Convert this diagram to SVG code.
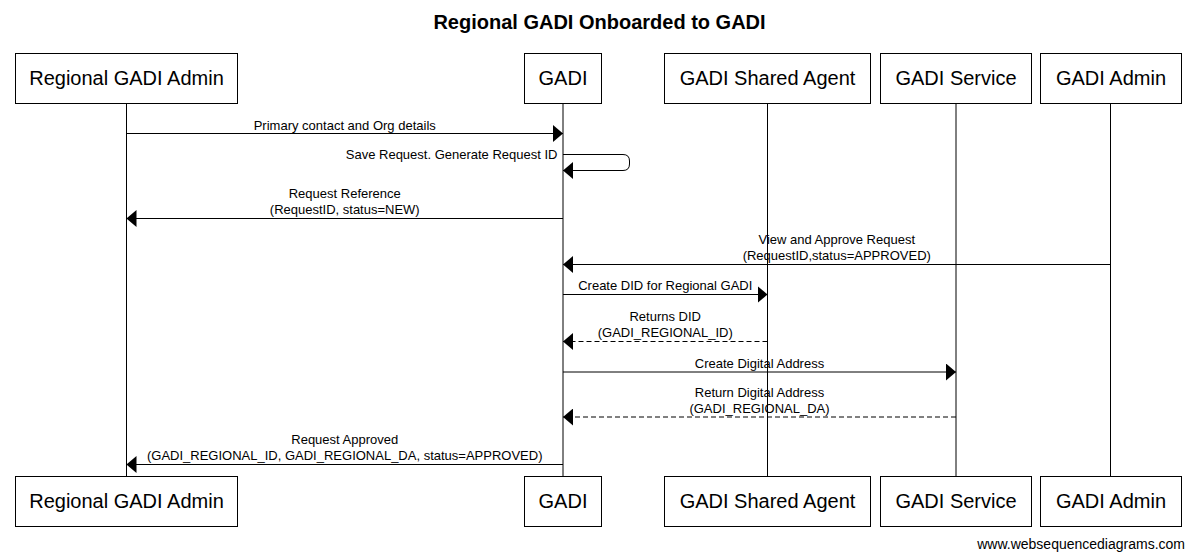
<svg xmlns="http://www.w3.org/2000/svg" width="1194" height="560" viewBox="0 0 1194 560">
<style>
  text { font-family: "Liberation Sans", Arial, sans-serif; fill: #000; }
  .title { font-size: 20px; font-weight: bold; text-anchor: middle; }
  .box rect { fill: #fff; stroke: #000; stroke-width: 1; }
  .box text { font-size: 20px; text-anchor: middle; }
  .life { stroke: #000; stroke-width: 1; fill: none; }
  .msg { stroke: #000; stroke-width: 1; fill: none; marker-end: url(#arrow); }
  .dash { stroke-dasharray: 5,3; }
  .lbl { font-size: 13px; text-anchor: middle; }
  .footer { font-size: 14px; text-anchor: end; }
</style>
<defs>
  <marker id="arrow" markerUnits="userSpaceOnUse" viewBox="0 0 10 17" refX="10" refY="8.5" markerWidth="10" markerHeight="17" orient="auto">
    <path d="M0,0 L10,8.5 L0,17 z" fill="#000"/>
  </marker>
</defs>
<rect width="1194" height="560" fill="#fff"/>
<text class="title" x="599.5" y="29">Regional GADI Onboarded to GADI</text>

<g id="lifelines">
  <line class="life" x1="126.5" y1="103.5" x2="126.5" y2="476.5"/>
  <line class="life" x1="563" y1="103.5" x2="563" y2="476.5"/>
  <line class="life" x1="767.5" y1="103.5" x2="767.5" y2="476.5"/>
  <line class="life" x1="956" y1="103.5" x2="956" y2="476.5"/>
  <line class="life" x1="1110.5" y1="103.5" x2="1110.5" y2="476.5"/>
</g>

<g id="node-regional-admin" class="box">
  <rect x="15.5" y="53.5" width="222" height="50"/>
  <text x="126.5" y="85">Regional GADI Admin</text>
  <rect x="15.5" y="476.5" width="222" height="50"/>
  <text x="126.5" y="508">Regional GADI Admin</text>
</g>
<g id="node-gadi" class="box">
  <rect x="524.5" y="53.5" width="77" height="50"/>
  <text x="563" y="85">GADI</text>
  <rect x="524.5" y="476.5" width="77" height="50"/>
  <text x="563" y="508">GADI</text>
</g>
<g id="node-shared-agent" class="box">
  <rect x="664.5" y="53.5" width="206" height="50"/>
  <text x="767.5" y="85">GADI Shared Agent</text>
  <rect x="664.5" y="476.5" width="206" height="50"/>
  <text x="767.5" y="508">GADI Shared Agent</text>
</g>
<g id="node-service" class="box">
  <rect x="880.5" y="53.5" width="151" height="50"/>
  <text x="956" y="85">GADI Service</text>
  <rect x="880.5" y="476.5" width="151" height="50"/>
  <text x="956" y="508">GADI Service</text>
</g>
<g id="node-gadi-admin" class="box">
  <rect x="1040.5" y="53.5" width="141" height="50"/>
  <text x="1111" y="85">GADI Admin</text>
  <rect x="1040.5" y="476.5" width="141" height="50"/>
  <text x="1111" y="508">GADI Admin</text>
</g>

<g id="connectors">
  <line class="msg" x1="126.5" y1="133.5" x2="563" y2="133.5"/>
  <text class="lbl" x="344.75" y="129.5">Primary contact and Org details</text>

  <path class="msg" d="M563,154.5 H623 Q629.5,154.5 629.5,161 V164 Q629.5,170.5 623,170.5 H563"/>
  <text class="lbl" x="557.5" y="159" style="text-anchor:end">Save Request. Generate Request ID</text>

  <line class="msg" x1="563" y1="218.5" x2="126.5" y2="218.5"/>
  <text class="lbl" x="344.75" y="197.5">Request Reference</text>
  <text class="lbl" x="344.75" y="213.5">(RequestID, status=NEW)</text>

  <line class="msg" x1="1110.5" y1="264.5" x2="563" y2="264.5"/>
  <text class="lbl" x="836.75" y="243.5">View and Approve Request</text>
  <text class="lbl" x="836.75" y="259.5">(RequestID,status=APPROVED)</text>

  <line class="msg" x1="563" y1="294.5" x2="767.5" y2="294.5"/>
  <text class="lbl" x="665.25" y="290">Create DID for Regional GADI</text>

  <line class="msg dash" x1="767.5" y1="341.5" x2="563" y2="341.5"/>
  <text class="lbl" x="665.25" y="321">Returns DID</text>
  <text class="lbl" x="665.25" y="337">(GADI_REGIONAL_ID)</text>

  <line class="msg" x1="563" y1="372" x2="956" y2="372"/>
  <text class="lbl" x="759.5" y="367.5">Create Digital Address</text>

  <line class="msg dash" x1="956" y1="417" x2="563" y2="417"/>
  <text class="lbl" x="759.5" y="396.5">Return Digital Address</text>
  <text class="lbl" x="759.5" y="412.5">(GADI_REGIONAL_DA)</text>

  <line class="msg" x1="563" y1="464.5" x2="126.5" y2="464.5"/>
  <text class="lbl" x="344.75" y="443.5">Request Approved</text>
  <text class="lbl" x="344.75" y="459.5">(GADI_REGIONAL_ID, GADI_REGIONAL_DA, status=APPROVED)</text>
</g>

<text class="footer" x="1185" y="549">www.websequencediagrams.com</text>
</svg>
